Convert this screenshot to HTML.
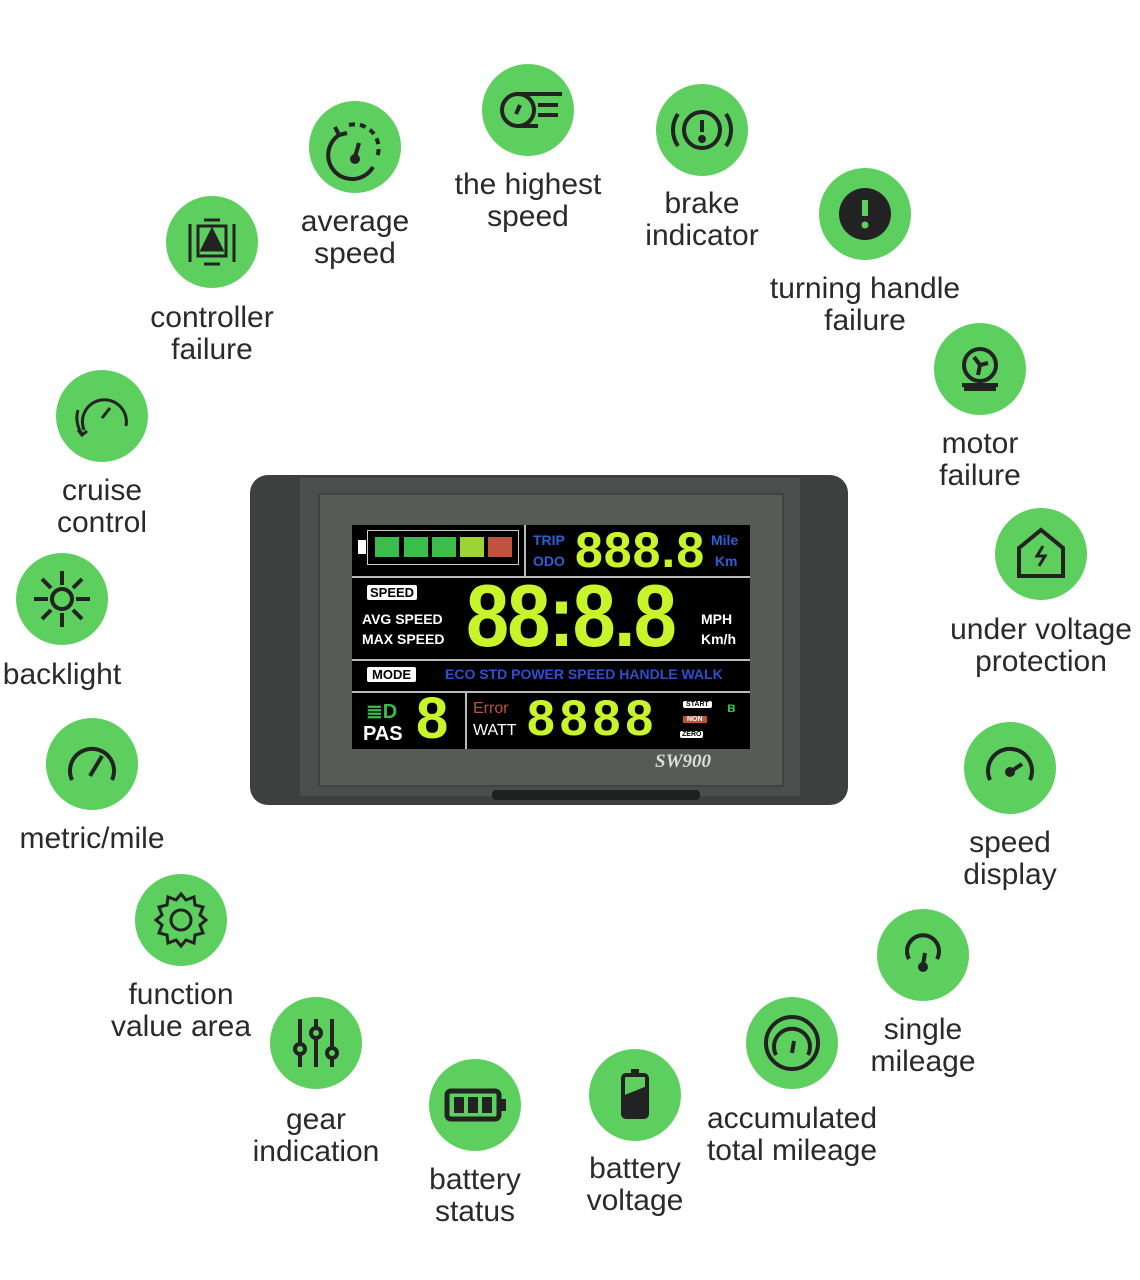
<!DOCTYPE html>
<html><head><meta charset="utf-8"><style>
body{margin:0;width:1140px;height:1280px;background:#fff;position:relative;overflow:hidden;font-family:"Liberation Sans",sans-serif}
.c{position:absolute;width:92px;height:92px;border-radius:50%;background:#5dcf5e}
.c svg{width:92px;height:92px}
.l{position:absolute;font-size:30px;line-height:32px;color:#2a2a2a;text-align:center;white-space:nowrap;transform:translateX(-50%)}
.a{position:absolute;font-weight:bold;white-space:nowrap}
.g{color:#c8f52a;font-family:"Liberation Sans",sans-serif;font-weight:bold}
</style></head><body>

<div class="c" style="left:166px;top:196px"><svg viewBox="0 0 92 92" fill="none" stroke="#222" stroke-width="3"><path d="M24 28V66M68 28V66"/><rect x="32" y="30" width="28" height="30"/><path d="M38 24h16M38 68h16"/><path d="M46 34L56 54H36Z" fill="#222"/></svg></div>
<div class="l" style="left:212px;top:302px">controller<br>failure</div>

<div class="c" style="left:309px;top:101px"><svg viewBox="0 0 92 92" fill="none" stroke="#222" stroke-width="4"><path d="M30 34A24 24 0 1 0 64 66"/><path d="M40 24A24 24 0 0 1 68 56" stroke-dasharray="6 5"/><path d="M26 26l4 8 8-2"/><path d="M46 56l4-14"/><circle cx="46" cy="58" r="3" fill="#222"/></svg></div>
<div class="l" style="left:355px;top:206px">average<br>speed</div>

<div class="c" style="left:482px;top:64px"><svg viewBox="0 0 92 92" fill="none" stroke="#222" stroke-width="4"><circle cx="36" cy="46" r="16"/><path d="M36 30h44M36 62h20M56 41h20M56 51h20"/><path d="M34 50l4-9"/></svg></div>
<div class="l" style="left:528px;top:169px">the highest<br>speed</div>

<div class="c" style="left:656px;top:84px"><svg viewBox="0 0 92 92" fill="none" stroke="#222" stroke-width="4"><circle cx="46" cy="46" r="18"/><path d="M22 30A28 28 0 0 0 22 62M70 30A28 28 0 0 1 70 62M46 36v12"/><circle cx="46" cy="55" r="2" fill="#222"/></svg></div>
<div class="l" style="left:702px;top:188px">brake<br>indicator</div>

<div class="c" style="left:819px;top:168px"><svg viewBox="0 0 92 92"><circle cx="46" cy="46" r="26" fill="#222"/><path d="M46 32v16" stroke="#5dcf5e" stroke-width="6"/><circle cx="46" cy="57" r="3.5" fill="#5dcf5e"/></svg></div>
<div class="l" style="left:865px;top:273px">turning handle<br>failure</div>

<div class="c" style="left:934px;top:323px"><svg viewBox="0 0 92 92" fill="none" stroke="#222" stroke-width="4"><circle cx="46" cy="42" r="16"/><path d="M28 62h36M30 66h32"/><path d="M46 42l-6-8M46 42l8-2M46 42l-2 10"/></svg></div>
<div class="l" style="left:980px;top:428px">motor<br>failure</div>

<div class="c" style="left:995px;top:508px"><svg viewBox="0 0 92 92" fill="none" stroke="#222" stroke-width="4"><path d="M24 40L46 22 68 40V68H24Z"/><path d="M48 38l-6 10h8l-6 10" stroke-width="3"/></svg></div>
<div class="l" style="left:1041px;top:614px">under voltage<br>protection</div>

<div class="c" style="left:964px;top:722px"><svg viewBox="0 0 92 92" fill="none" stroke="#222" stroke-width="4"><path d="M26 58A22 22 0 1 1 66 58"/><path d="M46 50l12-8"/><circle cx="46" cy="50" r="3" fill="#222"/></svg></div>
<div class="l" style="left:1010px;top:827px">speed<br>display</div>

<div class="c" style="left:877px;top:909px"><svg viewBox="0 0 92 92" fill="none" stroke="#222" stroke-width="4"><path d="M32 50A16 16 0 1 1 60 50"/><path d="M46 56l2-12"/><circle cx="46" cy="58" r="3" fill="#222"/></svg></div>
<div class="l" style="left:923px;top:1014px">single<br>mileage</div>

<div class="c" style="left:746px;top:997px"><svg viewBox="0 0 92 92" fill="none" stroke="#222" stroke-width="4"><circle cx="46" cy="46" r="26"/><path d="M30 58A18 18 0 1 1 62 58"/><path d="M46 56l2-12"/></svg></div>
<div class="l" style="left:792px;top:1103px">accumulated<br>total mileage</div>

<div class="c" style="left:589px;top:1049px"><svg viewBox="0 0 92 92" fill="none" stroke="#222" stroke-width="4"><rect x="34" y="26" width="24" height="42" rx="3"/><path d="M42 22h8"/><path d="M36 66V48L56 40V66Z" fill="#222"/></svg></div>
<div class="l" style="left:635px;top:1153px">battery<br>voltage</div>

<div class="c" style="left:429px;top:1059px"><svg viewBox="0 0 92 92"><rect x="18" y="32" width="52" height="28" rx="4" fill="none" stroke="#222" stroke-width="5"/><rect x="72" y="40" width="5" height="12" fill="#222"/><rect x="25" y="38" width="10" height="16" fill="#222"/><rect x="39" y="38" width="10" height="16" fill="#222"/><rect x="53" y="38" width="10" height="16" fill="#222"/></svg></div>
<div class="l" style="left:475px;top:1164px">battery<br>status</div>

<div class="c" style="left:270px;top:997px"><svg viewBox="0 0 92 92" fill="none" stroke="#222" stroke-width="4"><path d="M30 22v48M46 22v48M62 22v48"/><circle cx="30" cy="52" r="5" fill="#5dcf5e"/><circle cx="46" cy="36" r="5" fill="#5dcf5e"/><circle cx="62" cy="56" r="5" fill="#5dcf5e"/></svg></div>
<div class="l" style="left:316px;top:1104px">gear<br>indication</div>

<div class="c" style="left:135px;top:874px"><svg viewBox="0 0 92 92" fill="none" stroke="#222" stroke-width="3"><circle cx="46" cy="46" r="10"/><path d="M46 20l5 6 8-3 1 8 8 2-3 8 6 5-6 5 3 8-8 2-1 8-8-3-5 6-5-6-8 3-1-8-8-2 3-8-6-5 6-5-3-8 8-2 1-8 8 3Z"/></svg></div>
<div class="l" style="left:181px;top:979px">function<br>value area</div>

<div class="c" style="left:46px;top:718px"><svg viewBox="0 0 92 92" fill="none" stroke="#222" stroke-width="4"><path d="M26 62A22 22 0 1 1 66 62"/><path d="M44 58l12-20"/></svg></div>
<div class="l" style="left:92px;top:823px">metric/mile</div>

<div class="c" style="left:16px;top:553px"><svg viewBox="0 0 92 92" fill="none" stroke="#222" stroke-width="4"><circle cx="46" cy="46" r="10"/><path d="M46 18v14M46 60v14M18 46h14M60 46h14M26 26l9 9M57 57l9 9M66 26l-9 9M35 57l-9 9"/></svg></div>
<div class="l" style="left:62px;top:659px">backlight</div>

<div class="c" style="left:56px;top:370px"><svg viewBox="0 0 92 92" fill="none" stroke="#222" stroke-width="3"><path d="M28 60A22 22 0 1 1 70 56"/><path d="M46 48l8-10"/><path d="M22 40A28 28 0 0 0 26 64" /><path d="M22 60l4 5 5-4"/></svg></div>
<div class="l" style="left:102px;top:475px">cruise<br>control</div>

<!-- Display -->
<div style="position:absolute;left:250px;top:475px;width:598px;height:330px;background:#3d403f;border-radius:18px"></div>
<div style="position:absolute;left:300px;top:478px;width:500px;height:318px;background:#4a4e4c"></div>
<div style="position:absolute;left:318px;top:493px;width:462px;height:290px;background:#565b58;border:2px solid #3f4341"></div>
<div style="position:absolute;left:492px;top:790px;width:208px;height:10px;background:#1f2120;border-radius:4px"></div>
<div style="position:absolute;left:352px;top:525px;width:398px;height:224px;background:#000"></div>
<div style="position:absolute;left:352px;top:576px;width:398px;height:2px;background:#bbb"></div>
<div style="position:absolute;left:352px;top:659px;width:398px;height:2px;background:#bbb"></div>
<div style="position:absolute;left:352px;top:691px;width:398px;height:2px;background:#bbb"></div>
<div style="position:absolute;left:524px;top:525px;width:2px;height:51px;background:#bbb"></div>
<div style="position:absolute;left:465px;top:693px;width:2px;height:56px;background:#bbb"></div>
<div style="position:absolute;left:358px;top:540px;width:8px;height:14px;background:#fff"></div>
<div style="position:absolute;left:367px;top:530px;width:150px;height:33px;border:1px solid #ccc"></div>
<div style="position:absolute;left:375px;top:537px;width:24px;height:20px;background:#3cbc4a"></div>
<div style="position:absolute;left:404px;top:537px;width:24px;height:20px;background:#3cbc4a"></div>
<div style="position:absolute;left:432px;top:537px;width:24px;height:20px;background:#3cbc4a"></div>
<div style="position:absolute;left:460px;top:537px;width:24px;height:20px;background:#9cd336"></div>
<div style="position:absolute;left:488px;top:537px;width:24px;height:20px;background:#c0533d"></div>
<div class="a" style="left:533px;top:530px;color:#2d5fd6;font-size:14px;line-height:21px">TRIP<br>ODO</div>
<div class="a g" style="left:575px;top:522px;font-size:50px;line-height:56px;letter-spacing:1px">888.8</div>
<div class="a" style="left:711px;top:530px;color:#2d5fd6;font-size:14px;line-height:21px">Mile<br>&nbsp;Km</div>
<div class="a" style="left:367px;top:585px;background:#fff;color:#000;font-size:13px;padding:0 3px;border-radius:2px">SPEED</div>
<div class="a" style="left:362px;top:609px;color:#fff;font-size:14px;line-height:20px">AVG SPEED<br>MAX SPEED</div>
<div class="a g" style="left:466px;top:570px;font-size:88px;line-height:92px;letter-spacing:-2px;transform:scaleX(0.88);transform-origin:0 0">88:8.8</div>
<div class="a" style="left:701px;top:609px;color:#fff;font-size:14px;line-height:20px">MPH<br>Km/h</div>
<div class="a" style="left:367px;top:667px;background:#fff;color:#000;font-size:13px;padding:0 5px;border-radius:2px">MODE</div>
<div class="a" style="left:445px;top:666px;color:#2d4fd0;font-size:14px">ECO STD POWER SPEED HANDLE WALK</div>
<div class="a" style="left:366px;top:699px;color:#3cbc4a;font-size:20px">≣D</div>
<div class="a" style="left:363px;top:723px;color:#fff;font-size:20px">PAS</div>
<div class="a g" style="left:416px;top:688px;font-size:58px;line-height:62px">8</div>
<div class="a" style="left:473px;top:700px;color:#c0533d;font-size:16px;font-weight:normal">Error</div>
<div class="a" style="left:473px;top:722px;color:#fff;font-size:16px;font-weight:normal">WATT</div>
<div class="a g" style="left:527px;top:690px;font-size:50px;line-height:56px;letter-spacing:5px">8888</div>
<div class="a" style="left:683px;top:701px;background:#fff;color:#000;font-size:7px;padding:0 3px;border-radius:2px">START</div>
<div class="a" style="left:683px;top:716px;background:#c0533d;color:#fff;font-size:7px;padding:0 4px">NON</div>
<div class="a" style="left:680px;top:731px;background:#fff;color:#000;font-size:7px;padding:0 2px;border-radius:2px">ZERO</div>
<div class="a" style="left:727px;top:699px;color:#3cbc4a;font-size:14px">ʙ</div>
<div class="a" style="left:655px;top:751px;color:#ddd;font-family:'Liberation Serif',serif;font-style:italic;font-size:19px">SW900</div>
</body></html>
